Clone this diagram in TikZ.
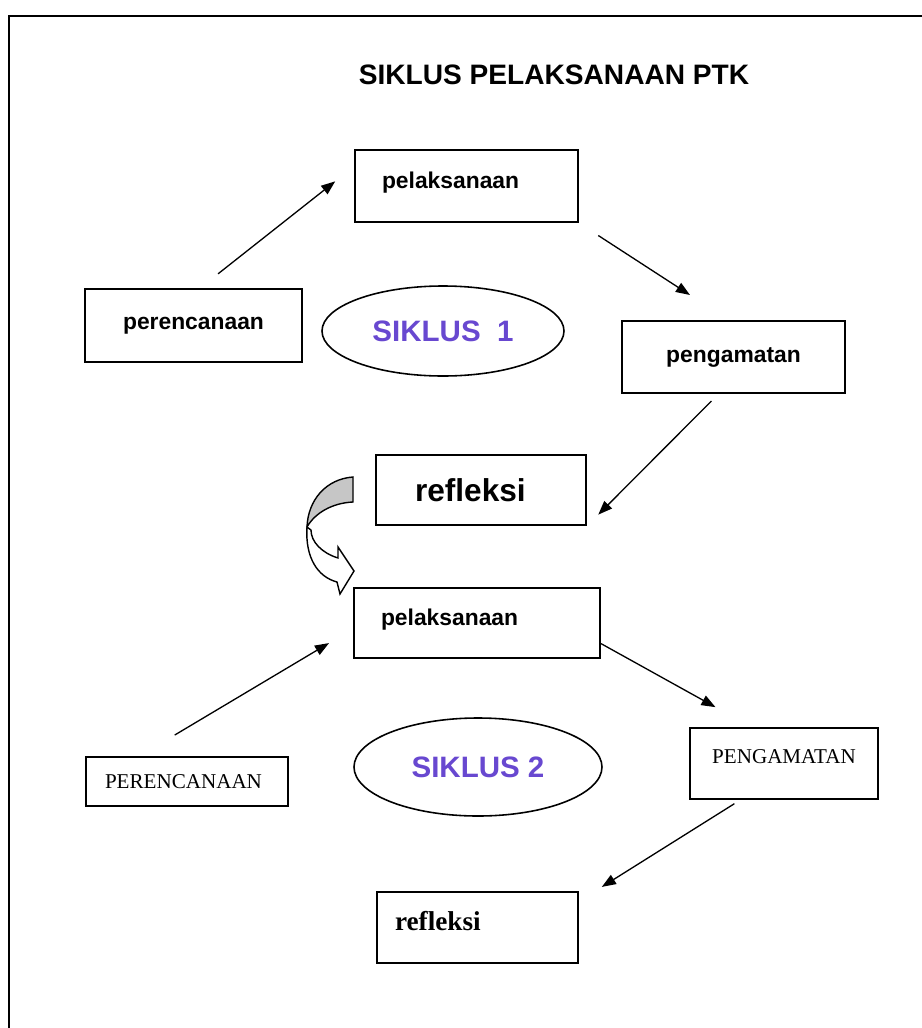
\documentclass[tikz,border=0pt]{standalone}
\usepackage{fontspec}
\usepackage{tikz}
\usetikzlibrary{arrows.meta,calc,shapes.geometric}
\setmainfont{Liberation Sans}
\newfontfamily\timesfont{Liberation Serif}
\definecolor{ungu}{RGB}{104,72,208}
\newcommand{\px}{0.02cm}

\begin{document}
\begin{tikzpicture}[x=\px,y=-\px,
        kotak/.style={draw,line width=1.1pt,rectangle,inner sep=0pt},
        oval/.style={draw,line width=0.9pt,ellipse,inner sep=0pt,text=ungu,
            font=\fontsize{16.8}{19}\selectfont\bfseries},
        panah/.style={line width=0.75pt,-{Triangle[length=8pt,width=6pt]}}]
            \useasboundingbox (0,0) rectangle (922,1028);
            \draw[line width=1.6pt] (922,16) -- (9,16) -- (9,1028);
            \node (judul) at (554,75) {\fontsize{16}{18}\selectfont\bfseries SIKLUS PELAKSANAAN PTK};
            % siklus 1
            \node[kotak,minimum width=223*\px,minimum height=72*\px,text width=169*\px,align=left,
                text depth=7pt,font=\fontsize{13}{15}\selectfont\bfseries] (pel1) at (466.5,186) {pelaksanaan};
            \node[kotak,minimum width=217*\px,minimum height=73*\px,
                font=\fontsize{13}{15}\selectfont\bfseries] (per1) at (193.5,325.5) {perencanaan};
            \node[kotak,minimum width=223*\px,minimum height=72*\px,
                font=\fontsize{13}{15}\selectfont\bfseries] (pen1) at (733.5,357) {pengamatan};
            \node[kotak,minimum width=210*\px,minimum height=70*\px,text width=132*\px,align=left,
                font=\fontsize{18}{20}\selectfont\bfseries] (ref1) at (481,490) {refleksi};
            \node[oval,minimum width=242*\px,minimum height=90*\px] (sik1) at (443,331) {SIKLUS~ 1};
            \draw[panah,shorten <=23*\px,shorten >=24*\px] ($(per1.north west)!0.53!(per1.north east)$) -- ($(pel1.north west)!0.236!(pel1.south west)$);
            \draw[panah,shorten <=23*\px,shorten >=46*\px] (pel1.south east) -- ($(pen1.north west)!0.478!(pen1.north east)$);
            \draw[panah,shorten <=10*\px,shorten >=16*\px] ($(pen1.south west)!0.433!(pen1.south east)$) -- (ref1.south east);
            % panah lengkung ke siklus 2
            \filldraw[fill=gray!45,line width=0.8pt] (353,477) .. controls (326,479) and (308,500) .. (307,527)
                .. controls (315,513) and (332,503) .. (353,502) -- cycle;
            \filldraw[fill=white,line width=0.8pt] (307,527) .. controls (305,558) and (318,577) .. (337,582)
                -- (340,594) -- (354,571) -- (338,547) -- (338,558) .. controls (322,553) and (311,542) .. (311,530) -- cycle;
            % siklus 2
            \node[kotak,minimum width=246*\px,minimum height=70*\px,text width=192*\px,align=left,
                text depth=7pt,font=\fontsize{13}{15}\selectfont\bfseries] (pel2) at (477,623) {pelaksanaan};
            \node[kotak,minimum width=202*\px,minimum height=49*\px,text width=164*\px,align=left,
                font=\timesfont\fontsize{12}{14}\selectfont] (per2) at (187,781.5) {PERENCANAAN};
            \node[kotak,minimum width=188*\px,minimum height=71*\px,text depth=8.5pt,
                font=\timesfont\fontsize{12}{14}\selectfont] (pen2) at (784,763.5) {PENGAMATAN};
            \node[kotak,minimum width=201*\px,minimum height=71*\px,text width=165*\px,align=left,text depth=8pt,
                font=\timesfont\fontsize{15.5}{18}\selectfont\bfseries] (ref2) at (477.5,927.5) {refleksi};
            \node[oval,minimum width=248*\px,minimum height=98*\px] (sik2) at (478,767) {SIKLUS 2};
            \draw[panah,shorten <=41*\px,shorten >=28*\px] ($(per2.north west)!0.267!(per2.north east)$) -- ($(pel2.north west)!0.58!(pel2.south west)$);
            \draw[panah,shorten >=41*\px] ($(pel2.north east)!0.786!(pel2.south east)$) -- ($(pen2.north west)!0.328!(pen2.north east)$);
            \draw[panah,shorten <=7*\px,shorten >=27*\px] ($(pen2.south west)!0.27!(pen2.south east)$) -- ($(ref2.north east)!0.14!(ref2.south east)$);
        \end{tikzpicture}
\end{document}
